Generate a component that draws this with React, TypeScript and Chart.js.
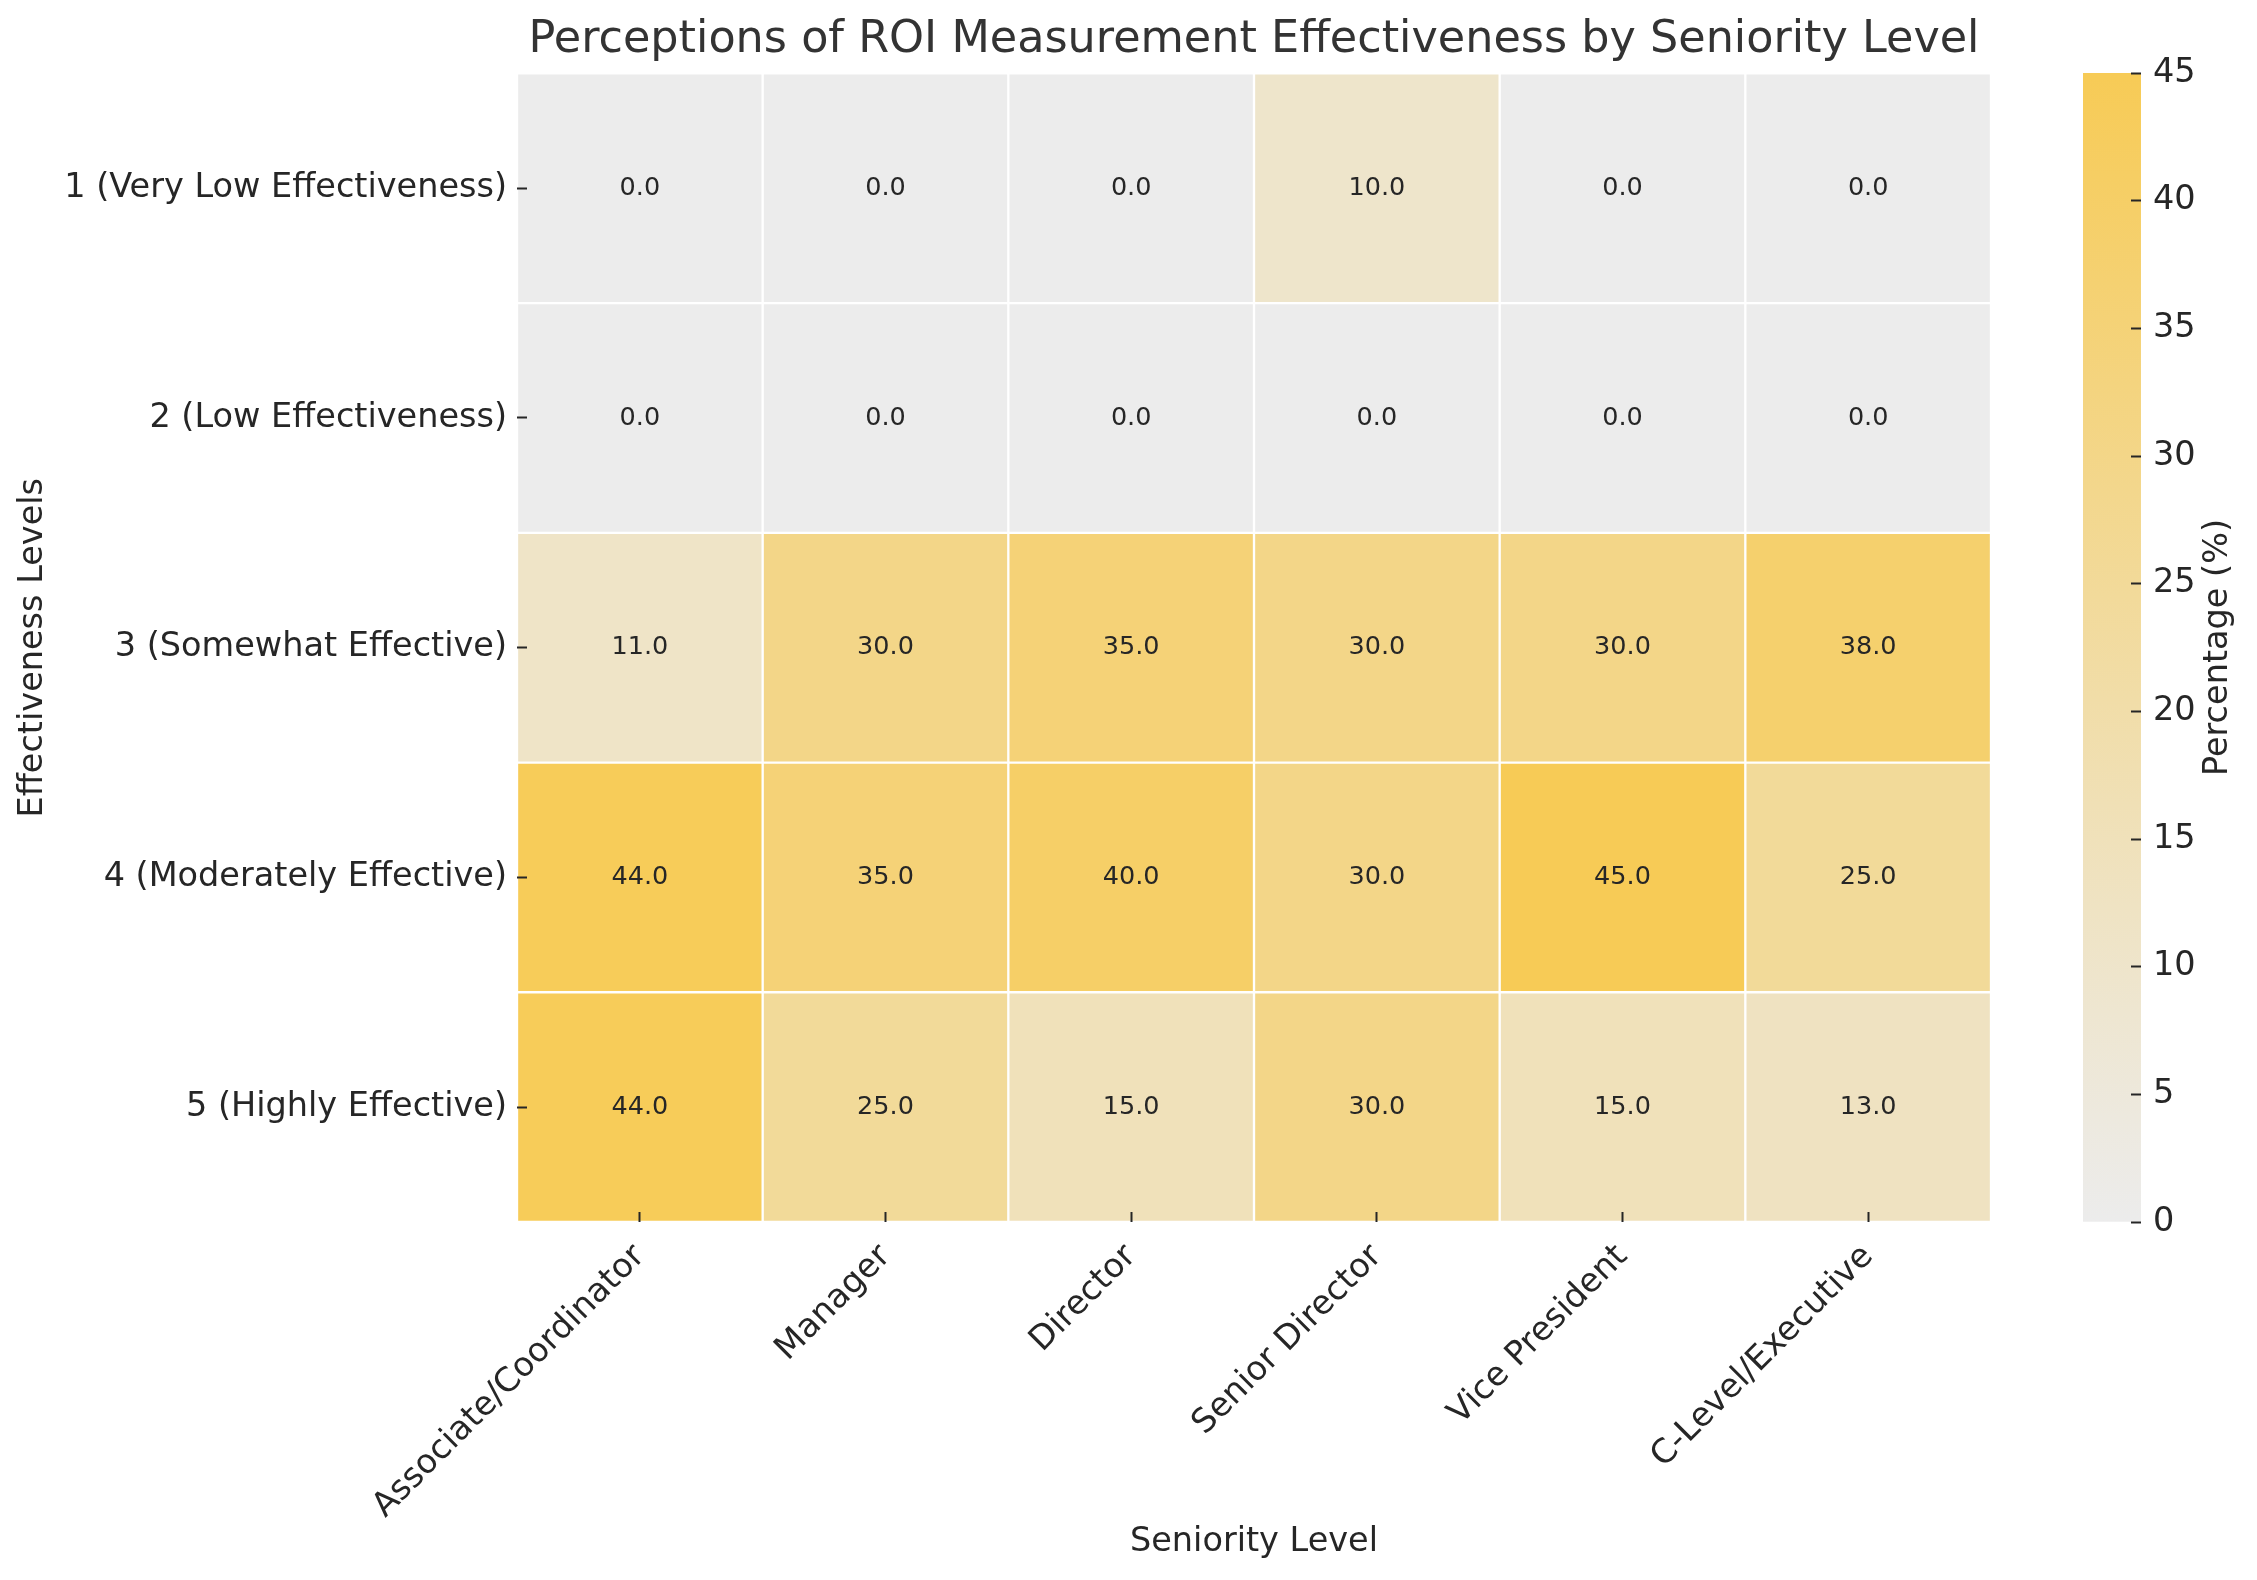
import React, { useEffect, useRef } from "react";
import { Chart, registerables } from "chart.js";

Chart.register(...registerables);

const seniority = [
  "Associate/Coordinator",
  "Manager",
  "Director",
  "Senior Director",
  "Vice President",
  "C-Level/Executive",
];

const levels = [
  "1 (Very Low Effectiveness)",
  "2 (Low Effectiveness)",
  "3 (Somewhat Effective)",
  "4 (Moderately Effective)",
  "5 (Highly Effective)",
];

const veryLow = [0, 0, 0, 10, 0, 0];
const low = [0, 0, 0, 0, 0, 0];
const somewhat = [11, 30, 35, 30, 30, 38];
const moderately = [44, 35, 40, 30, 45, 25];
const highly = [44, 25, 15, 30, 15, 13];

const rows = [veryLow, low, somewhat, moderately, highly];

const colorbarTicks = [0, 5, 10, 15, 20, 25, 30, 35, 40, 45];
const vmin = 0;
const vmax = 45;

const LO = [236, 236, 236];
const HI = [247, 203, 86];
const TEXT = "#262626";
const FONT = "'DejaVu Sans', sans-serif";
const TICK_SIZE = 33.5;

function colorFor(v: number): string {
  const t = Math.max(0, Math.min(1, (v - vmin) / (vmax - vmin)));
  const c = LO.map((lo, i) => Math.round(lo + (HI[i] - lo) * t));
  return `rgb(${c[0]},${c[1]},${c[2]})`;
}

const annotatePlugin = {
  id: "annotate",
  afterDatasetsDraw(chart: any) {
    const ctx = chart.ctx;
    ctx.save();
    ctx.font = `25.5px ${FONT}`;
    ctx.fillStyle = TEXT;
    ctx.textAlign = "center";
    ctx.textBaseline = "middle";
    chart.data.datasets.forEach((ds: any, di: number) => {
      const meta = chart.getDatasetMeta(di);
      meta.data.forEach((bar: any, j: number) => {
        const p = bar.getProps(["x", "y", "base"], true);
        const cy = (p.y + p.base) / 2;
        ctx.fillText(rows[di][j].toFixed(1), p.x, cy);
      });
    });
    ctx.restore();
  },
};

const cbLabelPlugin = {
  id: "cbLabel",
  afterDraw(chart: any) {
    const ctx = chart.ctx;
    const ca = chart.chartArea;
    const ys = chart.scales.y;
    ctx.save();
    ctx.font = `${TICK_SIZE}px ${FONT}`;
    ctx.fillStyle = TEXT;
    ctx.textAlign = "center";
    ctx.textBaseline = "middle";
    ctx.translate(ys.left + 77, (ca.top + ca.bottom) / 2);
    ctx.rotate(-Math.PI / 2);
    ctx.fillText("Percentage (%)", 0, 0);
    ctx.restore();
  },
};

export default function App() {
  const mainRef = useRef<HTMLCanvasElement>(null);
  const cbRef = useRef<HTMLCanvasElement>(null);

  useEffect(() => {
    Chart.defaults.font.family = FONT;
    const datasets = rows.map((vals, r) => ({
      label: levels[r],
      data: seniority.map(() => [r, r + 1]),
      backgroundColor: vals.map(colorFor),
      borderColor: "#ffffff",
      borderWidth: 1.5,
      borderSkipped: false,
      barPercentage: 1,
      categoryPercentage: 1,
      grouped: false,
    }));

    const main = new Chart(mainRef.current as HTMLCanvasElement, {
      type: "bar",
      data: { labels: seniority, datasets: datasets as any },
      plugins: [annotatePlugin],
      options: {
        responsive: false,
        animation: false,
        events: [],
        layout: { padding: { left: 0, right: 49, top: 0, bottom: 0 } },
        plugins: {
          legend: { display: false },
          tooltip: { enabled: false },
          title: {
            display: true,
            text: "Perceptions of ROI Measurement Effectiveness by Seniority Level",
            color: "#333333",
            font: { size: 44.5, weight: "normal", family: FONT, lineHeight: 1.2 },
            padding: { top: 14, bottom: 6 },
            fullSize: false,
          },
        },
        scales: {
          x: {
            type: "category",
            position: "bottom",
            offset: true,
            grid: {
              display: true,
              offset: false,
              drawOnChartArea: false,
              drawTicks: true,
              tickLength: -10,
              tickWidth: 2,
              tickColor: TEXT,
              z: 1,
            },
            border: { display: false },
            ticks: {
              autoSkip: false,
              minRotation: 45,
              maxRotation: 45,
              padding: 25,
              color: TEXT,
              font: { size: TICK_SIZE, family: FONT },
            },
            title: {
              display: true,
              text: "Seniority Level",
              color: TEXT,
              font: { size: TICK_SIZE, family: FONT, lineHeight: 1.2 },
              padding: { top: 0, bottom: 18 },
            },
            afterFit: (s: any) => {
              s.height = 358;
            },
          },
          y: {
            type: "linear",
            min: 0,
            max: levels.length,
            reverse: true,
            afterBuildTicks: (s: any) => {
              s.ticks = levels.map((_, i) => ({ value: i + 0.5 }));
            },
            grid: {
              display: true,
              drawOnChartArea: false,
              drawTicks: true,
              tickLength: -10,
              tickWidth: 2,
              tickColor: TEXT,
              z: 1,
            },
            border: { display: false },
            ticks: {
              autoSkip: false,
              padding: 20,
              color: TEXT,
              font: { size: TICK_SIZE, family: FONT },
              callback: (_v: any, i: number) => levels[i],
            },
            title: {
              display: true,
              text: "Effectiveness Levels",
              color: TEXT,
              font: { size: TICK_SIZE, family: FONT, lineHeight: 1.2 },
              padding: { top: 13, bottom: 0 },
            },
            afterFit: (s: any) => {
              s.width = 517;
            },
          },
        },
      } as any,
    });

    const cb = new Chart(cbRef.current as HTMLCanvasElement, {
      type: "bar",
      data: {
        labels: [""],
        datasets: [
          {
            data: [[vmin, vmax]] as any,
            backgroundColor: (ctx: any) => {
              const ca = ctx.chart.chartArea;
              if (!ca) return colorFor(vmax);
              const g = ctx.chart.ctx.createLinearGradient(0, ca.bottom, 0, ca.top);
              g.addColorStop(0, colorFor(vmin));
              g.addColorStop(1, colorFor(vmax));
              return g;
            },
            borderWidth: 0,
            barPercentage: 1,
            categoryPercentage: 1,
          },
        ],
      },
      plugins: [cbLabelPlugin],
      options: {
        responsive: false,
        animation: false,
        events: [],
        layout: { padding: { left: 0, right: 0, top: 73, bottom: 358 } },
        plugins: { legend: { display: false }, tooltip: { enabled: false } },
        scales: {
          x: { display: false },
          y: {
            position: "right",
            min: vmin,
            max: vmax,
            afterBuildTicks: (s: any) => {
              s.ticks = colorbarTicks.map((v) => ({ value: v }));
            },
            grid: {
              display: true,
              drawOnChartArea: false,
              drawTicks: true,
              tickLength: -10,
              tickWidth: 2,
              tickColor: TEXT,
              z: 1,
            },
            border: { display: false },
            ticks: {
              autoSkip: false,
              padding: 22,
              color: TEXT,
              font: { size: TICK_SIZE, family: FONT },
            },
            afterFit: (s: any) => {
              s.width = 116;
            },
          },
        },
      } as any,
    });

    return () => {
      main.destroy();
      cb.destroy();
    };
  }, []);

  return (
    <div
      style={{
        position: "absolute",
        left: 0,
        top: 0,
        width: 2257,
        height: 1580,
        background: "#ffffff",
        overflow: "hidden",
      }}
    >
      <canvas
        ref={mainRef}
        width={2040}
        height={1580}
        style={{ position: "absolute", left: 0, top: 0, width: 2040, height: 1580 }}
      />
      <canvas
        ref={cbRef}
        width={174}
        height={1580}
        style={{ position: "absolute", left: 2083, top: 0, width: 174, height: 1580 }}
      />
    </div>
  );
}
